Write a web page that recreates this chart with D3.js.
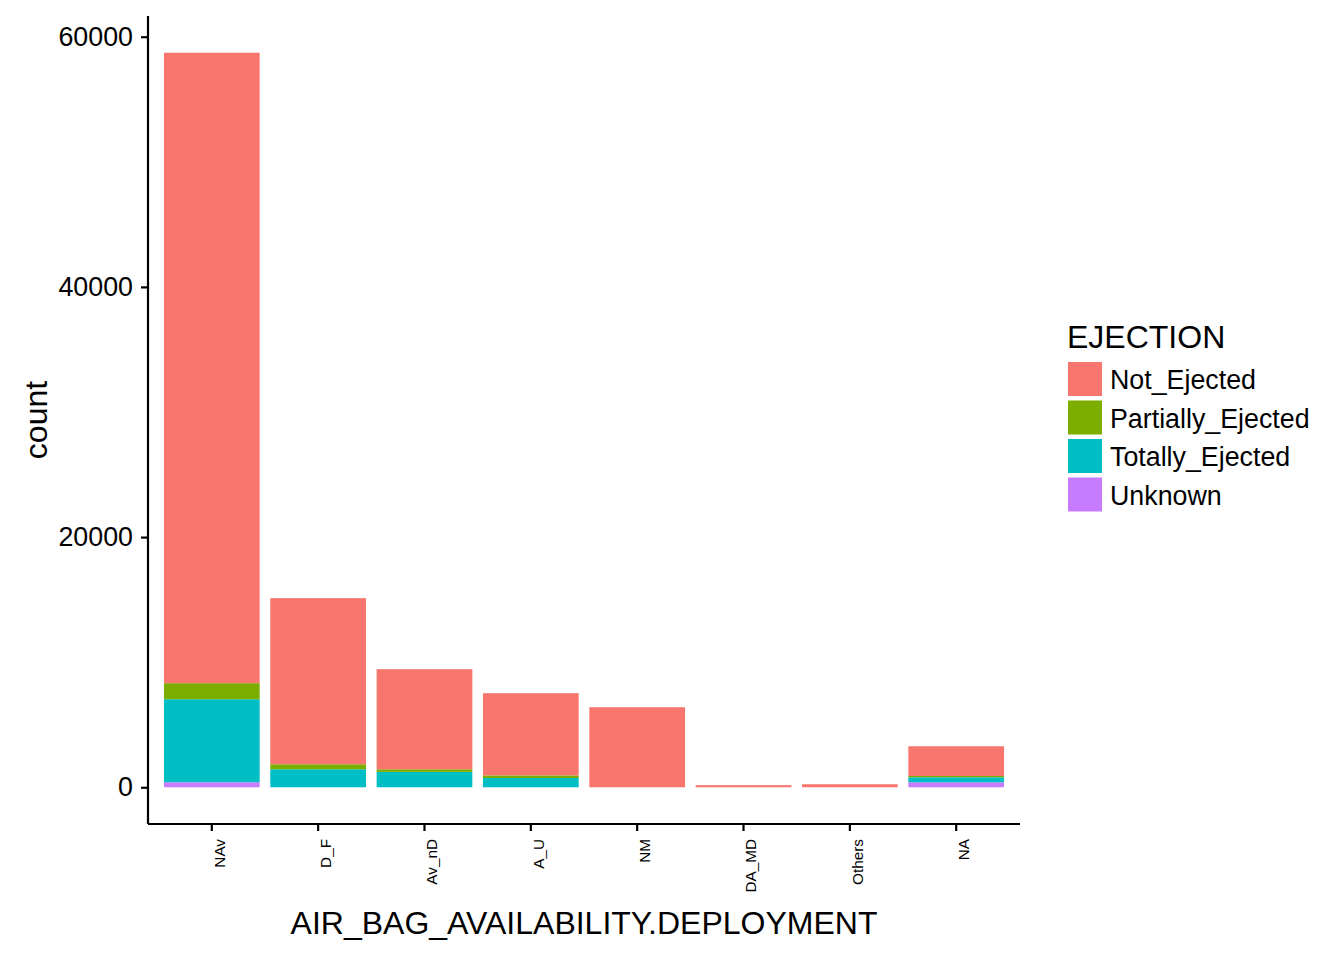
<!DOCTYPE html>
<html>
<head>
<meta charset="utf-8">
<script src="https://cdn.jsdelivr.net/npm/d3@7"></script>
<style>
  body { margin: 0; background: #fff; }
  text { font-family: "Liberation Sans", Arial, sans-serif; fill: #000; }
</style>
</head>
<body>
<svg id="chart" width="1344" height="960"></svg>
<script>
  // categories on the x axis
  var categories = ["NAv", "D_F", "Av_nD", "A_U", "NM", "DA_MD", "Others", "NA"];
  // fill groups, top of stack first
  var groups = ["Not_Ejected", "Partially_Ejected", "Totally_Ejected", "Unknown"];
  var colors = ["#F8766D", "#7CAE00", "#00BFC4", "#C77CFF"];
  // counts per category
  var notEjected = [50400, 13280, 8000, 6570, 6400, 170, 240, 2380];
  var partiallyEjected = [1280, 400, 210, 210, 0, 0, 0, 100];
  var totallyEjected = [6640, 1440, 1230, 740, 0, 0, 0, 400];
  var unknown = [400, 0, 0, 0, 0, 0, 0, 400];
  var yTicks = [0, 20000, 40000, 60000];

  var rows = categories.map(function(c, i) {
    return {
      cat: c,
      Not_Ejected: notEjected[i],
      Partially_Ejected: partiallyEjected[i],
      Totally_Ejected: totallyEjected[i],
      Unknown: unknown[i]
    };
  });

  var svg = d3.select("#chart");
  var panelLeft = 148, panelRight = 1020, panelTop = 16, panelBottom = 824;

  // stack bottom-up: Unknown first so Not_Ejected lands on top
  var stack = d3.stack().keys(groups.slice().reverse());
  var series = stack(rows);
  var maxTotal = d3.max(rows, function(d) {
    return d.Not_Ejected + d.Partially_Ejected + d.Totally_Ejected + d.Unknown;
  });
  var pad = maxTotal * 0.05;

  var x = d3.scaleBand().domain(categories)
    .range([panelLeft, panelRight]).paddingInner(0.1).paddingOuter(0.15);
  var y = d3.scaleLinear().domain([-pad, maxTotal + pad]).range([panelBottom, panelTop]);
  var color = d3.scaleOrdinal().domain(groups).range(colors);

  svg.append("g").selectAll("g")
    .data(series)
    .enter().append("g")
    .attr("fill", function(d) { return color(d.key); })
    .selectAll("rect")
    .data(function(d) { return d; })
    .enter().append("rect")
    .attr("x", function(d) { return x(d.data.cat); })
    .attr("width", x.bandwidth())
    .attr("y", function(d) { return y(d[1]); })
    .attr("height", function(d) { return Math.max(0, y(d[0]) - y(d[1])); });

  // y axis
  var yAxis = svg.append("g")
    .attr("transform", "translate(" + panelLeft + ",0)")
    .call(d3.axisLeft(y).tickValues(yTicks).tickSize(7).tickPadding(8).tickFormat(d3.format("d")));
  yAxis.select(".domain").attr("d", "M0," + panelTop + "V" + panelBottom).attr("stroke-width", 2.2);
  yAxis.selectAll(".tick line").attr("stroke-width", 2.2);
  yAxis.selectAll(".tick text").attr("font-size", 26.8).attr("fill", "#000")
    .attr("font-family", "Liberation Sans, Arial, sans-serif");

  // x axis
  var xAxis = svg.append("g")
    .attr("transform", "translate(0," + panelBottom + ")")
    .call(d3.axisBottom(x).tickSize(7).tickSizeOuter(0));
  xAxis.select(".domain").attr("d", "M" + panelLeft + ",0H" + panelRight).attr("stroke-width", 2.2);
  xAxis.selectAll(".tick line").attr("stroke-width", 2.2);
  xAxis.selectAll(".tick text")
    .attr("font-size", 15.3).attr("fill", "#000")
    .attr("font-family", "Liberation Sans, Arial, sans-serif")
    .attr("text-anchor", "end")
    .attr("transform", "translate(0,15) rotate(-90)")
    .attr("x", 0).attr("y", 0).attr("dy", "0.83em");

  // axis titles
  svg.append("text")
    .attr("x", (panelLeft + panelRight) / 2).attr("y", 934)
    .attr("text-anchor", "middle").attr("font-size", 32)
    .text("AIR_BAG_AVAILABILITY.DEPLOYMENT");
  svg.append("text")
    .attr("transform", "translate(47," + ((panelTop + panelBottom) / 2) + ") rotate(-90)")
    .attr("text-anchor", "middle").attr("font-size", 32)
    .text("count");

  // legend
  var legend = svg.append("g").attr("transform", "translate(1067,0)");
  legend.append("text").attr("x", 0).attr("y", 348).attr("font-size", 32).text("EJECTION");
  var items = legend.selectAll("g.item").data(groups).enter().append("g")
    .attr("class", "item")
    .attr("transform", function(d, i) { return "translate(0," + (362 + i * 38.5) + ")"; });
  items.append("rect").attr("x", 1).attr("y", 0).attr("width", 34).attr("height", 34)
    .attr("fill", function(d) { return color(d); });
  items.append("text").attr("x", 43).attr("y", 27).attr("font-size", 26.8).text(function(d) { return d; });
</script>
</body>
</html>
